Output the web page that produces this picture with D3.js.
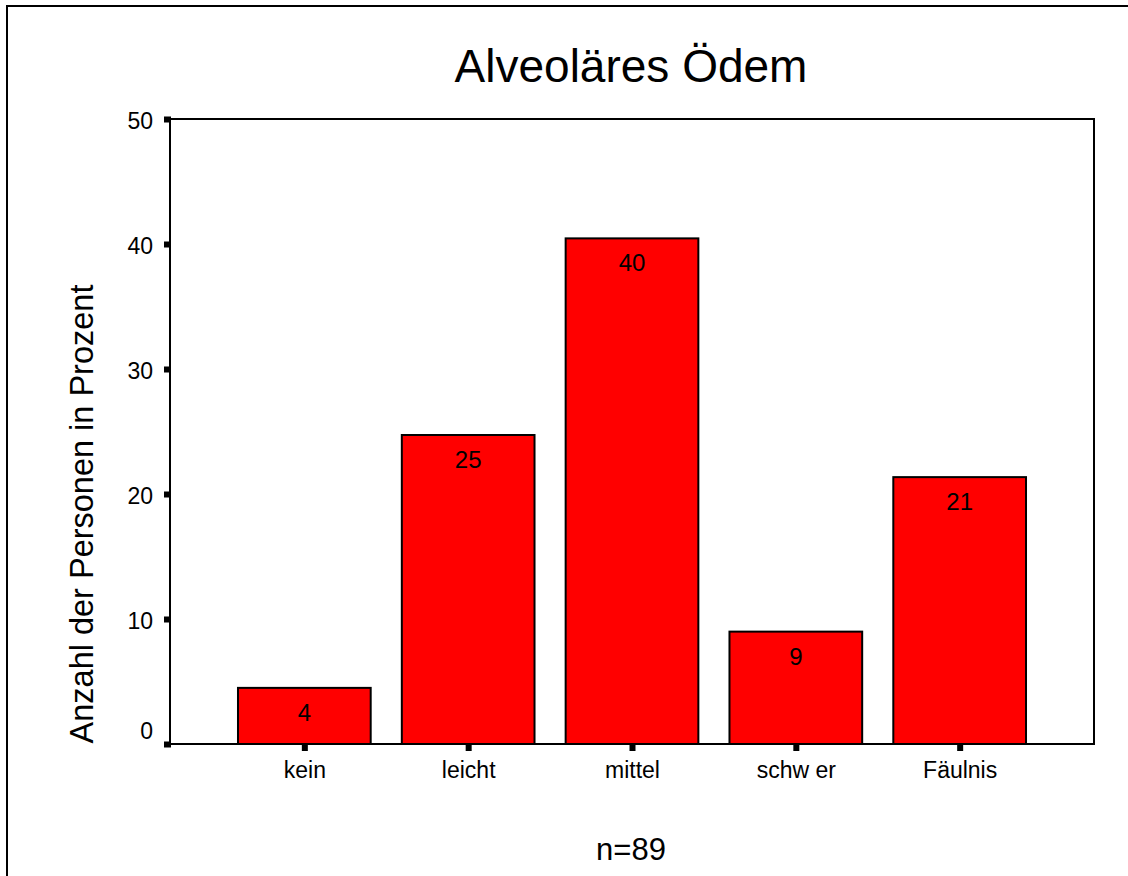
<!DOCTYPE html>
<html>
<head>
<meta charset="utf-8">
<script src="https://cdn.jsdelivr.net/npm/d3@7"></script>
<style>
  html, body { margin: 0; padding: 0; background: #fff; overflow: hidden; }
  svg { display: block; font-family: "Liberation Sans", Arial, sans-serif; }
</style>
</head>
<body>
<svg id="chart" width="1128" height="876"></svg>
<script>
// Alveoläres Ödem – share of persons per grade (percent, n=89)
const categories = ["kein", "leicht", "mittel", "schw er", "Fäulnis"];
const percentValues = [4.49, 24.72, 40.45, 8.99, 21.35];
const yTicks = [0, 10, 20, 30, 40, 50];
const titleText = "Alveoläres Ödem";
const yAxisLabel = "Anzahl der Personen in Prozent";
const footnote = "n=89";

const svg = d3.select("#chart");
const W = 1128, H = 876;
const plot = { left: 170, top: 119, right: 1094, bottom: 744 };

// outer frame: only the left and top edges fall inside the page
svg.append("path")
  .attr("d", `M7,${H} L7,6 L${W},6`)
  .attr("fill", "none").attr("stroke", "#000").attr("stroke-width", 2);

const x = d3.scalePoint()
  .domain(categories)
  .range([plot.left, plot.right])
  .padding(0.82);
const barWidth = x.step() * 0.81;

const y = d3.scaleLinear()
  .domain([0, 50])
  .range([plot.bottom, plot.top]);

// plot frame
svg.append("rect")
  .attr("x", plot.left).attr("y", plot.top)
  .attr("width", plot.right - plot.left)
  .attr("height", plot.bottom - plot.top)
  .attr("fill", "none").attr("stroke", "#000").attr("stroke-width", 2);

// bars
svg.append("g").selectAll("rect")
  .data(categories)
  .join("rect")
  .attr("x", (d) => x(d) - barWidth / 2)
  .attr("y", (d, i) => y(percentValues[i]))
  .attr("width", barWidth)
  .attr("height", (d, i) => y(0) - y(percentValues[i]))
  .attr("fill", "#ff0000")
  .attr("stroke", "#000")
  .attr("stroke-width", 2);

// value labels inside bars
svg.append("g").selectAll("text")
  .data(categories)
  .join("text")
  .attr("x", (d) => x(d))
  .attr("y", (d, i) => y(percentValues[i]) + 33)
  .attr("text-anchor", "middle")
  .attr("font-size", 24)
  .attr("fill", "#000")
  .text((d, i) => d3.format(".0f")(percentValues[i]));

// y axis: labels and square tick marks
const yAxis = d3.axisLeft(y).tickValues(yTicks).tickSize(0).tickPadding(17).tickFormat(d3.format("d"));
const yg = svg.append("g").attr("transform", `translate(${plot.left},0)`).call(yAxis);
yg.select(".domain").remove();
yg.selectAll("text")
  .attr("font-size", 23)
  .attr("font-family", "Liberation Sans, Arial, sans-serif")
  .attr("fill", "#000")
  .attr("dy", (d) => d === 0 ? "-0.25em" : "0.4em");
yg.selectAll(".tick").append("rect")
  .attr("x", -6).attr("y", -3).attr("width", 7).attr("height", 6).attr("fill", "#000");

// x axis: labels and square tick marks
const xAxis = d3.axisBottom(x).tickSize(0).tickPadding(18);
const xg = svg.append("g").attr("transform", `translate(0,${plot.bottom})`).call(xAxis);
xg.select(".domain").remove();
xg.selectAll("text").attr("font-size", 23).attr("font-family", "Liberation Sans, Arial, sans-serif").attr("fill", "#000");
xg.selectAll(".tick").append("rect")
  .attr("x", -3).attr("y", 1).attr("width", 6).attr("height", 6).attr("fill", "#000");

// title
svg.append("text")
  .attr("x", 631).attr("y", 82)
  .attr("text-anchor", "middle")
  .attr("font-size", 46)
  .text(titleText);

// y axis title
svg.append("text")
  .attr("transform", `translate(93,514) rotate(-90)`)
  .attr("text-anchor", "middle")
  .attr("font-size", 32.5)
  .text(yAxisLabel);

// sample size note
svg.append("text")
  .attr("x", 631).attr("y", 860)
  .attr("text-anchor", "middle")
  .attr("font-size", 31)
  .text(footnote);
</script>
</body>
</html>
